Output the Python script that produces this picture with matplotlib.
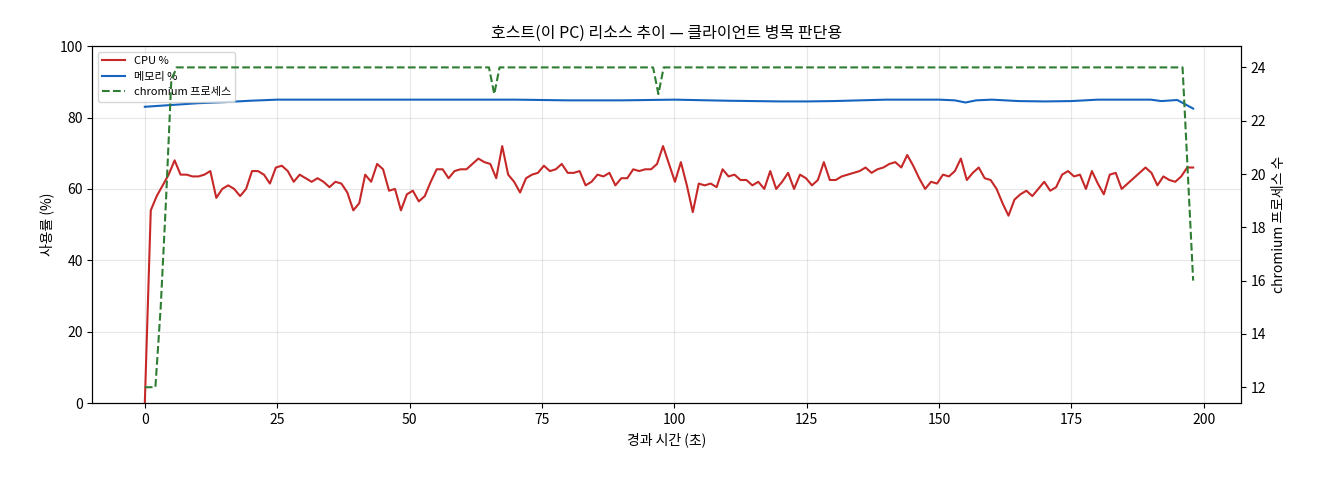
import numpy as np
import matplotlib
matplotlib.use("Agg")
import matplotlib.pyplot as plt

plt.rcParams['font.family'] = ['Noto Sans CJK KR', 'DejaVu Sans']

cpu = [0,54,58,61,64,68,64,64,63.5,63.5,64,65,57.5,60,61,60,58,60,65,65,64,61.5,66,66.5,65,62,64,63,62,63,
       62,60.5,62,61.5,59,54,56,64,62,67,65.5,59.5,60,54,58.5,59.5,56.5,58,62,65.5,65.5,63,65,65.5,65.5,67,68.5,67.5,67,63,
       72,64,62,59,63,64,64.5,66.5,65,65.5,67,64.5,64.5,65,61,62,64,63.5,64.5,61,63,63,65.5,65,65.5,65.5,67,72,67,62,
       67.5,61,53.5,61.5,61,61.5,60.5,65.5,63.5,64,62.5,62.5,61,62,60,65,60,62,64.5,60,64,63,61,62.5,67.5,62.5,62.5,63.5,64,64.5,
       65,66,64.5,65.5,66,67,67.5,66,69.5,66.5,63,60,62,61.5,64,63.5,65,68.5,62.5,64.5,66,63,62.5,60,56,52.5,57,58.5,59.5,58,
       60,62,59.5,60.5,64,65,63.5,64,60,65,61.5,58.5,64,64.5,60,61.5,63,64.5,66,64.5,61,63.5,62.5,62,63.5,66,66]
t_end = 198
cpu_t = np.arange(len(cpu)) * t_end / (len(cpu) - 1)

mem_t = [0,5,10,15,20,25,30,40,50,60,70,80,90,100,110,120,125,130,140,150,153,155,157,160,165,170,175,180,190,192,195,198]
mem = [83,83.5,84,84.3,84.7,85,85,85,85,85,85,84.8,84.8,85,84.7,84.5,84.5,84.6,85,85,84.8,84.2,84.8,85,84.6,84.5,84.6,85,85,84.6,84.9,82.5]

chr_t = [0,1,2,3,4,5,6,64,65,66,67,95,96,97,98,195,196,197,198]
chr_n = [12,12,12,15,19,23.5,24,24,24,23,24,24,24,23,24,24,24,20,16]

fig, ax = plt.subplots(figsize=(13.2, 4.8), dpi=100)
l1, = ax.plot(cpu_t, cpu, color='#c62828', lw=1.5, label='CPU %')
l2, = ax.plot(mem_t, mem, color='#1565c0', lw=1.5, label='메모리 %')
ax.set_ylim(0, 100)
ax.set_xlim(-9.9, 207)
ax.set_xlabel('경과 시간 (초)')
ax.set_ylabel('사용률 (%)')
ax.grid(True, alpha=0.3)
ax2 = ax.twinx()
l3, = ax2.plot(chr_t, chr_n, color='#2e7d32', lw=1.5, ls='--', label='chromium 프로세스')
ax2.set_ylim(11.4, 24.8)
ax2.set_ylabel('chromium 프로세스 수')
ax.set_title('호스트(이 PC) 리소스 추이 — 클라이언트 병목 판단용', fontsize=11.5)
ax.legend(handles=[l1, l2, l3], loc='upper left', fontsize=8)
fig.subplots_adjust(left=0.07, right=0.94, top=0.904, bottom=0.16)
fig.savefig('out.png')
